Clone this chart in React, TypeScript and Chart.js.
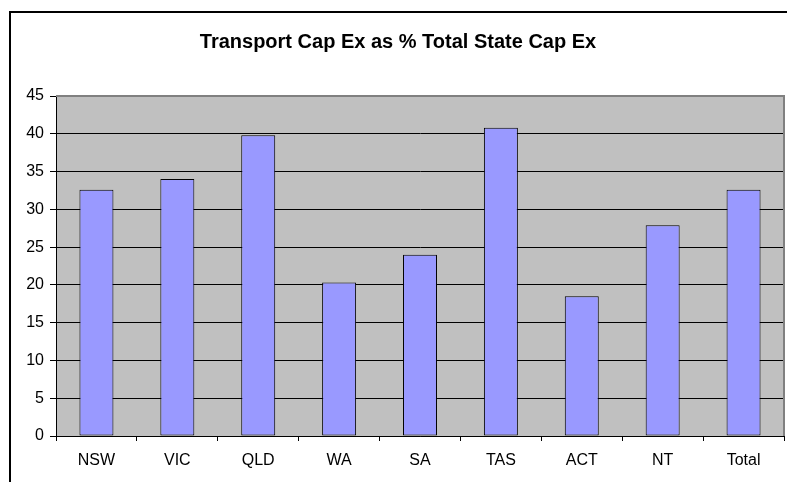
import React, { useEffect, useRef } from "react";
import { Chart, registerables } from "chart.js";

Chart.register(...registerables);

const TITLE = "Transport Cap Ex as % Total State Cap Ex";
const categories = ["NSW", "VIC", "QLD", "WA", "SA", "TAS", "ACT", "NT", "Total"];
const values = [32.6, 34.0, 39.8, 20.3, 24.0, 40.8, 18.5, 27.9, 32.6];
const yMin = 0;
const yMax = 45;
const yStep = 5;

const FONT = "'Liberation Sans', Arial, Helvetica, sans-serif";

const plotBg = {
  id: "plotBg",
  beforeDraw(chart: any) {
    const { ctx, chartArea } = chart;
    ctx.save();
    ctx.fillStyle = "#C0C0C0";
    ctx.fillRect(chartArea.left, chartArea.top, chartArea.right - chartArea.left, chartArea.bottom - chartArea.top);
    ctx.restore();
  },
  afterDatasetsDraw(chart: any) {
    const { ctx, chartArea } = chart;
    ctx.save();
    ctx.strokeStyle = "#808080";
    ctx.lineWidth = 2;
    ctx.beginPath();
    ctx.moveTo(chartArea.left, chartArea.top);
    ctx.lineTo(chartArea.right, chartArea.top);
    ctx.lineTo(chartArea.right, chartArea.bottom);
    ctx.stroke();
    ctx.restore();
  },
};

const titlePlugin = {
  id: "customTitle",
  afterDraw(chart: any) {
    const { ctx } = chart;
    ctx.save();
    ctx.font = `bold 20px ${FONT}`;
    ctx.fillStyle = "#000";
    ctx.textAlign = "center";
    ctx.textBaseline = "middle";
    ctx.fillText(TITLE, 398, 42);
    ctx.restore();
  },
};

export default function App() {
  const ref = useRef<HTMLCanvasElement>(null);
  useEffect(() => {
    if (!ref.current) return;
    const chart = new Chart(ref.current, {
      type: "bar",
      data: {
        labels: categories,
        datasets: [
          {
            data: values,
            backgroundColor: "#9999FF",
            borderColor: "#000000",
            borderWidth: 1,
            borderSkipped: false,
            barPercentage: 0.42,
            categoryPercentage: 1,
          },
        ],
      },
      options: {
        responsive: false,
        animation: false,
        devicePixelRatio: 1,
        layout: { padding: { top: 96, right: 3, left: 0, bottom: 0 } },
        plugins: {
          legend: { display: false },
          title: { display: false },
          tooltip: { enabled: false },
        },
        scales: {
          x: {
            offset: true,
            grid: {
              offset: true,
              drawOnChartArea: false,
              drawTicks: true,
              tickLength: 5,
              color: "#000",
            },
            border: { color: "#000", width: 1 },
            ticks: {
              color: "#000",
              font: { family: FONT, size: 16 },
              padding: 10,
              maxRotation: 0,
              autoSkip: false,
            },
            afterFit(scale: any) {
              scale.height = 46;
            },
          },
          y: {
            min: yMin,
            max: yMax,
            grid: {
              color: (c: any) => (c.tick && c.tick.value === yMax ? "#808080" : "#000"),
              tickColor: "#000",
              tickLength: 6,
              lineWidth: 1,
            },
            border: { color: "#000", width: 1 },
            ticks: {
              stepSize: yStep,
              color: "#000",
              font: { family: FONT, size: 16 },
              padding: 6,
            },
            afterFit(scale: any) {
              scale.width = 56;
            },
          },
        },
      },
      plugins: [plotBg, titlePlugin],
    });
    return () => chart.destroy();
  }, []);

  return (
    <div style={{ position: "fixed", left: 0, top: 0, width: 787, height: 482, overflow: "hidden", background: "#fff" }}>
      <div
        style={{
          position: "absolute",
          left: 9,
          top: 11,
          width: 800,
          height: 500,
          border: "2px solid #000",
          boxSizing: "border-box",
        }}
      />
      <canvas ref={ref} width={787} height={482} style={{ position: "absolute", left: 0, top: 0, width: 787, height: 482 }} />
    </div>
  );
}
